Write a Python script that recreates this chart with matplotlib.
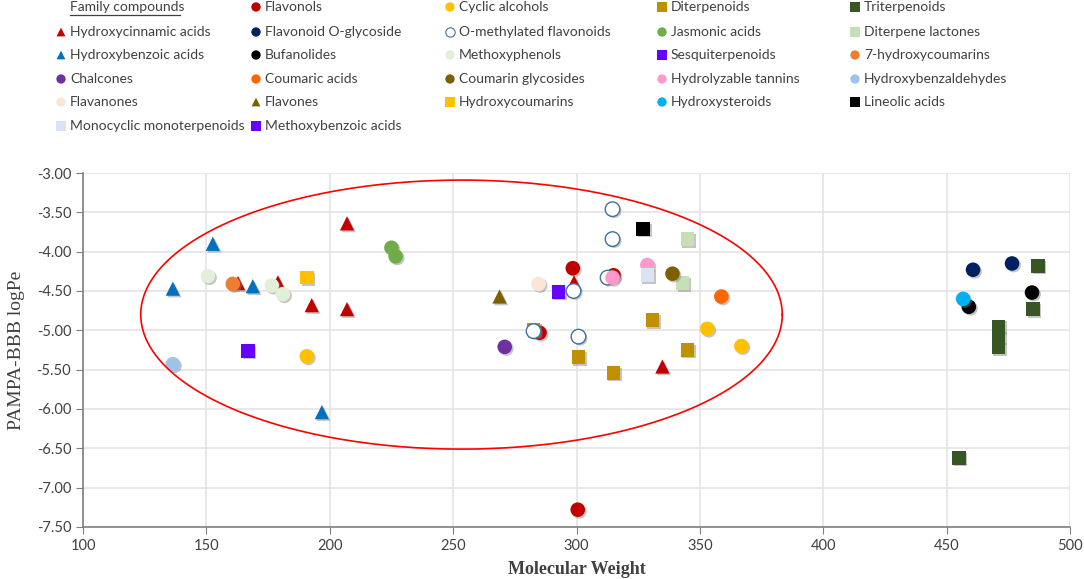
import numpy as np
import matplotlib
matplotlib.use('Agg')
import matplotlib.pyplot as plt
import matplotlib.patheffects as pe

# family data: name, colour, marker, molecular weights, logPe values
families = ['Flavonols', 'Cyclic alcohols', 'Diterpenoids', 'Triterpenoids',
            'Hydroxycinnamic acids', 'Flavonoid O-glycoside', 'O-methylated flavonoids',
            'Jasmonic acids', 'Diterpene lactones', 'Hydroxybenzoic acids', 'Bufanolides',
            'Methoxyphenols', 'Sesquiterpenoids', '7-hydroxycoumarins', 'Chalcones',
            'Coumaric acids', 'Coumarin glycosides', 'Hydrolyzable tannins',
            'Hydroxybenzaldehydes', 'Flavanones', 'Flavones', 'Hydroxycoumarins',
            'Hydroxysteroids', 'Lineolic acids', 'Monocyclic monoterpenoids',
            'Methoxybenzoic acids']

mw = {
    'Flavonols': [298.5, 315, 285, 300.5],
    'Cyclic alcohols': [190.7, 353, 366.8],
    'Diterpenoids': [282.6, 330.8, 300.8, 315, 345],
    'Triterpenoids': [487, 485, 471, 471, 471, 455],
    'Hydroxycinnamic acids': [207, 162.8, 179, 192.7, 207, 299, 334.8],
    'Flavonoid O-glycoside': [460.7, 476.5],
    'O-methylated flavonoids': [314.6, 314.6, 312.6, 298.8, 282.6, 300.8],
    'Jasmonic acids': [225, 226.7],
    'Diterpene lactones': [345, 343],
    'Hydroxybenzoic acids': [152.6, 136.4, 168.8, 196.8],
    'Bufanolides': [459, 484.6],
    'Methoxyphenols': [150.6, 176.5, 181],
    'Sesquiterpenoids': [292.7],
    '7-hydroxycoumarins': [160.7],
    'Chalcones': [270.9],
    'Coumaric acids': [358.7],
    'Coumarin glycosides': [338.9],
    'Hydrolyzable tannins': [328.7, 314.6],
    'Hydroxybenzaldehydes': [136.4],
    'Flavanones': [284.6],
    'Flavones': [268.8],
    'Hydroxycoumarins': [190.7],
    'Hydroxysteroids': [456.7],
    'Lineolic acids': [327],
    'Monocyclic monoterpenoids': [328.7],
    'Methoxybenzoic acids': [166.8],
}
logpe = {
    'Flavonols': [-4.21, -4.30, -5.03, -7.28],
    'Cyclic alcohols': [-5.33, -4.98, -5.20],
    'Diterpenoids': [-4.99, -4.87, -5.34, -5.54, -5.25],
    'Triterpenoids': [-4.18, -4.73, -4.95, -5.08, -5.22, -6.62],
    'Hydroxycinnamic acids': [-3.64, -4.40, -4.39, -4.68, -4.73, -4.39, -5.46],
    'Flavonoid O-glycoside': [-4.23, -4.15],
    'O-methylated flavonoids': [-3.46, -3.84, -4.33, -4.50, -5.01, -5.08],
    'Jasmonic acids': [-3.95, -4.06],
    'Diterpene lactones': [-3.84, -4.40],
    'Hydroxybenzoic acids': [-3.90, -4.47, -4.44, -6.04],
    'Bufanolides': [-4.70, -4.52],
    'Methoxyphenols': [-4.31, -4.43, -4.54],
    'Sesquiterpenoids': [-4.51],
    '7-hydroxycoumarins': [-4.41],
    'Chalcones': [-5.21],
    'Coumaric acids': [-4.57],
    'Coumarin glycosides': [-4.28],
    'Hydrolyzable tannins': [-4.17, -4.33],
    'Hydroxybenzaldehydes': [-5.43],
    'Flavanones': [-4.41],
    'Flavones': [-4.57],
    'Hydroxycoumarins': [-4.33],
    'Hydroxysteroids': [-4.60],
    'Lineolic acids': [-3.71],
    'Monocyclic monoterpenoids': [-4.30],
    'Methoxybenzoic acids': [-5.26],
}
colors = {
    'Flavonols': '#C00000', 'Cyclic alcohols': '#FFC000', 'Diterpenoids': '#BF9000',
    'Triterpenoids': '#375623', 'Hydroxycinnamic acids': '#C00000',
    'Flavonoid O-glycoside': '#002060', 'O-methylated flavonoids': '#FFFFFF',
    'Jasmonic acids': '#70AD47', 'Diterpene lactones': '#C5E0B4',
    'Hydroxybenzoic acids': '#0070C0', 'Bufanolides': '#000000',
    'Methoxyphenols': '#E2F0D9', 'Sesquiterpenoids': '#6600FF',
    '7-hydroxycoumarins': '#ED7D31', 'Chalcones': '#7030A0',
    'Coumaric acids': '#FF6600', 'Coumarin glycosides': '#7F6000',
    'Hydrolyzable tannins': '#FF99CC', 'Hydroxybenzaldehydes': '#9DC3E6',
    'Flavanones': '#FBE5D6', 'Flavones': '#7F6000', 'Hydroxycoumarins': '#FFC000',
    'Hydroxysteroids': '#00B0F0', 'Lineolic acids': '#000000',
    'Monocyclic monoterpenoids': '#DAE3F3', 'Methoxybenzoic acids': '#6600FF',
}
markers = {
    'Flavonols': 'o', 'Cyclic alcohols': 'o', 'Diterpenoids': 's', 'Triterpenoids': 's',
    'Hydroxycinnamic acids': '^', 'Flavonoid O-glycoside': 'o',
    'O-methylated flavonoids': 'o', 'Jasmonic acids': 'o', 'Diterpene lactones': 's',
    'Hydroxybenzoic acids': '^', 'Bufanolides': 'o', 'Methoxyphenols': 'o',
    'Sesquiterpenoids': 's', '7-hydroxycoumarins': 'o', 'Chalcones': 'o',
    'Coumaric acids': 'o', 'Coumarin glycosides': 'o', 'Hydrolyzable tannins': 'o',
    'Hydroxybenzaldehydes': 'o', 'Flavanones': 'o', 'Flavones': '^',
    'Hydroxycoumarins': 's', 'Hydroxysteroids': 'o', 'Lineolic acids': 's',
    'Monocyclic monoterpenoids': 's', 'Methoxybenzoic acids': 's',
}
sizes = {'o': 110, 's': 95, '^': 105}

# legend layout (column, row) as in the original
legend_cols = [
    ['Hydroxycinnamic acids', 'Hydroxybenzoic acids', 'Chalcones', 'Flavanones',
     'Monocyclic monoterpenoids'],
    ['Flavonols', 'Flavonoid O-glycoside', 'Bufanolides', 'Coumaric acids', 'Flavones',
     'Methoxybenzoic acids'],
    ['Cyclic alcohols', 'O-methylated flavonoids', 'Methoxyphenols', 'Coumarin glycosides',
     'Hydroxycoumarins'],
    ['Diterpenoids', 'Jasmonic acids', 'Sesquiterpenoids', 'Hydrolyzable tannins',
     'Hydroxysteroids'],
    ['Triterpenoids', 'Diterpene lactones', '7-hydroxycoumarins', 'Hydroxybenzaldehydes',
     'Lineolic acids'],
]

# ellipse around the main group
ell_center = (253.4, -4.80)
ell_half = (130, 1.71)

plt.rcParams['font.family'] = ['Lato', 'DejaVu Sans']

fig = plt.figure(figsize=(10.84, 5.79), dpi=100)
ax = fig.add_axes([83 / 1084, 52 / 579, 987 / 1084, 354 / 579])

shadow = [pe.SimplePatchShadow(offset=(1.2, -1.2), shadow_rgbFace='gray', alpha=0.45), pe.Normal()]

for fam in families:
    m = markers[fam]
    ec = '#41719C' if fam == 'O-methylated flavonoids' else 'none'
    ax.scatter(mw[fam], logpe[fam], s=sizes[m], marker=m, c=colors[fam],
               edgecolors=ec, linewidths=1.0, zorder=3, path_effects=shadow)

t = np.linspace(0, 2 * np.pi, 400)
ax.plot(ell_center[0] + ell_half[0] * np.cos(t), ell_center[1] + ell_half[1] * np.sin(t),
        color='#FF0000', lw=1.2, zorder=4)

ax.set_xlim(100, 500)
ax.set_ylim(-7.5, -3.0)
ax.set_xticks(np.arange(100, 501, 50))
ax.set_yticks(np.arange(-7.5, -2.99, 0.5))
ax.set_yticklabels(['%.2f' % v for v in np.arange(-7.5, -2.99, 0.5)])
ax.grid(True, color='#E4E4E8', lw=1.2, zorder=0)
ax.set_axisbelow(True)
for s in ['top', 'right']:
    ax.spines[s].set_visible(False)
for s in ['left', 'bottom']:
    ax.spines[s].set_color('#7F7F7F')
    ax.spines[s].set_linewidth(1.2)
ax.tick_params(direction='out', length=5, color='#7F7F7F', labelsize=10.5,
               labelcolor='#404040')
ax.set_xlabel('Molecular Weight', family='Liberation Serif', fontweight='bold',
              fontsize=13, color='#404040', labelpad=6)
ax.set_ylabel('PAMPA-BBB logPe', family='Liberation Serif', fontsize=14,
              color='#404040', labelpad=8)

# custom legend at the top, in pixel units
lax = fig.add_axes([0, 1 - 140 / 579, 1, 140 / 579])
lax.set_xlim(0, 1084)
lax.set_ylim(140, 0)
lax.axis('off')
col_x = [61, 256, 450, 662, 855]
row_y = [7, 32, 55, 79, 102, 126]
lax.text(70, row_y[0], 'Family compounds', fontsize=10, color='#404040', va='center')
lax.plot([70, 180], [row_y[0] + 8, row_y[0] + 8], color='#404040', lw=0.9)
for ci, col in enumerate(legend_cols):
    start = 1 if ci == 0 else 0
    for ri, fam in enumerate(col):
        y = row_y[ri + start]
        m = markers[fam]
        ec = '#41719C' if fam == 'O-methylated flavonoids' else 'none'
        lax.scatter([col_x[ci]], [y], marker=m, s=45 if m != '^' else 40, c=colors[fam],
                    edgecolors=ec, linewidths=0.8)
        lax.text(col_x[ci] + 9, y, fam, fontsize=10, color='#404040', va='center')

fig.savefig('out.png', dpi=100)
